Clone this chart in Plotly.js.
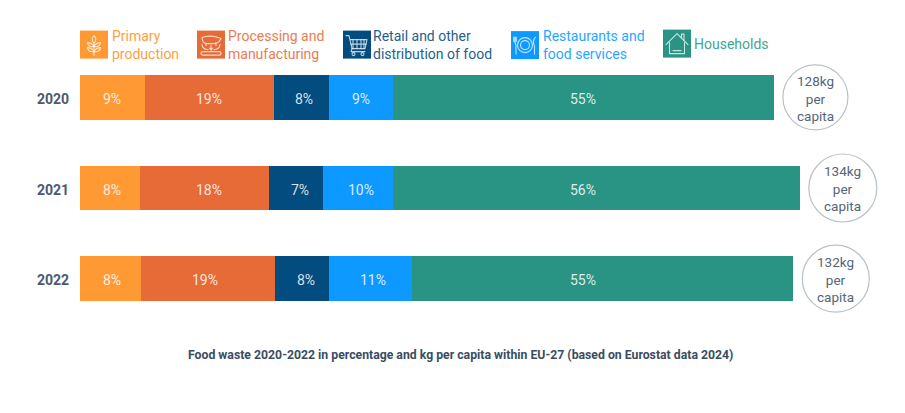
<!DOCTYPE html>
<html>
<head>
<meta charset="utf-8">
<script src="https://cdn.plot.ly/plotly-3.0.1.min.js"></script>
<style>html,body{margin:0;padding:0;background:#fff}#chart{width:905px;height:413px}</style>
</head>
<body>
<div id="chart"></div>
<script>
const years = ["2020", "2021", "2022"];
const seriesNames = ["Primary<br>production", "Processing and<br>manufacturing", "Retail and other<br>distribution of food", "Restaurants and<br>food services", "Households"];
const colors = ["#ff9933", "#e66b37", "#024c80", "#0d99ff", "#2a9484"];
const legendTextColors = ["#ffa040", "#e97d50", "#1f5f8f", "#2aa5ff", "#3fa595"];
const primaryKg = [12.0, 11.1, 11.3];
const processingKg = [24.0, 23.9, 24.9];
const retailKg = [10.1, 10.0, 9.9];
const restaurantsKg = [11.9, 13.0, 15.4];
const householdsKg = [70.5, 75.3, 70.5];
const primaryPct = ["9%", "8%", "8%"];
const processingPct = ["19%", "18%", "19%"];
const retailPct = ["8%", "7%", "8%"];
const restaurantsPct = ["9%", "10%", "11%"];
const householdsPct = ["55%", "56%", "55%"];
const primaryLabelX = [6.0, 6.0, 6.0];
const processingLabelX = [23.8, 23.8, 23.2];
const retailLabelX = [41.5, 40.7, 41.9];
const restaurantsLabelX = [52.0, 52.0, 54.3];
const householdsLabelX = [93.2, 93.2, 93.2];
const totalsKg = [128, 134, 132];
const chartTitle = "Food waste 2020-2022 in percentage and kg per capita within EU-27 (based on Eurostat data 2024)";

const W = 905, H = 413, L = 80, R = 15, T = 52.4, B = 88.6;
const pw = W - L - R, ph = H - T - B;
const px = v => (v - L) / pw;
const py = v => 1 - (v - T) / ph;
const font = "Roboto, sans-serif";

const kg = [primaryKg, processingKg, retailKg, restaurantsKg, householdsKg];
const pct = [primaryPct, processingPct, retailPct, restaurantsPct, householdsPct];
const labelX = [primaryLabelX, processingLabelX, retailLabelX, restaurantsLabelX, householdsLabelX];
const data = kg.map((vals, i) => ({
  type: "bar", orientation: "h", y: years, x: vals,
  marker: {color: colors[i], line: {width: 0}},
  name: seriesNames[i].replace("<br>", " "), hoverinfo: "skip", showlegend: false
}));

const sw = 'fill="none" stroke="#fff" stroke-opacity="0.75" stroke-width="1.1" stroke-linecap="round" stroke-linejoin="round"';
const svg = b => "data:image/svg+xml;utf8," + encodeURIComponent('<svg xmlns="http://www.w3.org/2000/svg" viewBox="0 0 28 28"><g ' + sw + '>' + b + '</g></svg>');
const icons = [
  svg('<path d="M14 5C11.5 7.5 11.5 10 14 12.5C16.5 10 16.5 7.5 14 5Z"/><path d="M14 12V25"/><path d="M14 16C12.5 13 10 12 7.5 12C8 15 10.5 16.5 14 16Z"/><path d="M14 16C15.5 13 18 12 20.5 12C20 15 17.5 16.5 14 16Z"/><path d="M14 21C12.5 18 10 17 7.5 17C8 20 10.5 21.5 14 21Z"/><path d="M14 21C15.5 18 18 17 20.5 17C20 20 17.5 21.5 14 21Z"/>'),
  svg('<path d="M5 7C9 5 17 5 21 7L24 8L22 11C20 13 18 13 17 13H10C7 13 5 11 5 7Z"/><path d="M9 13V15M19 12V15"/><path d="M5 14C5 17 8 19 11 19M23 14C23 17 20 19 17 19"/><path d="M14 15V19M12.5 17.5L14 19.5L15.5 17.5"/><rect x="4" y="21" width="20" height="3.5" rx="1.7"/>'),
  svg('<path d="M3 5H6L9 18H22L24 9H7"/><path d="M10 9V18M14 9V18M18 9V18M21 9V18M8 13.5H23"/><path d="M9 18L8 21H22"/><circle cx="10.5" cy="23.5" r="1.5"/><circle cx="19.5" cy="23.5" r="1.5"/>'),
  svg('<circle cx="14" cy="14" r="7.5"/><circle cx="14" cy="14" r="4.5"/><path d="M4 6V11C4 13 5 13.5 5 14V23M2.8 6V10.5M5.2 6V10.5"/><path d="M24.5 6C22 8 22 13 23.5 15V23"/>'),
  svg('<path d="M3 15L14 4L25 15"/><path d="M6.5 13V24H21.5V13"/><path d="M18.5 8V4.5H21V10.5"/><path d="M10 21H18"/>')
];
const iconBoxes = [[80, 31], [197, 31], [343, 31], [511, 31.5], [663, 30]];
const labelPos = [[109.5, 45], [225.5, 45], [370.5, 45], [540.5, 45], [691.5, 44]];
const BOX = 28;

const shapes = iconBoxes.map((b, i) => ({
  type: "rect", xref: "paper", yref: "paper", layer: "below",
  x0: px(b[0]), x1: px(b[0] + BOX), y0: py(b[1] + BOX), y1: py(b[1]),
  fillcolor: colors[i], line: {width: 0}
}));
const circleR = [32.5, 34, 33.5];
const circleShift = [41.5, 43, 43];
const circleTextYShift = [-1, 0, -1];
years.forEach((y, i) => {
  const r = circleR[i];
  shapes.push({
    type: "circle", xref: "x", yref: "y", xsizemode: "pixel", ysizemode: "pixel",
    xanchor: kg.reduce((s, a) => s + a[i], 0), yanchor: i,
    x0: circleShift[i] - r, x1: circleShift[i] + r, y0: -r, y1: r,
    fillcolor: "#fff", line: {color: "#b9c1ca", width: 1.2}
  });
});

const annotations = seriesNames.map((t, i) => ({
  xref: "paper", yref: "paper", x: px(labelPos[i][0]), y: py(labelPos[i][1]),
  xanchor: "left", yanchor: "middle", align: "left", showarrow: false, text: t,
  font: {family: font, size: 14, color: legendTextColors[i]}
}));
years.forEach((y, i) => {
  annotations.push({
    xref: "x", yref: "y", x: kg.reduce((s, a) => s + a[i], 0), y: i, xshift: circleShift[i], yshift: circleTextYShift[i],
    xanchor: "center", yanchor: "middle", align: "center", showarrow: false,
    text: totalsKg[i] + "kg<br>per<br>capita",
    font: {family: font, size: 13.5, color: "#55657a"}
  });
  annotations.push({
    xref: "paper", yref: "y", x: px(69.5), xshift: 1.5, y: i, yshift: -1.5,
    xanchor: "right", yanchor: "middle", showarrow: false, text: y,
    font: {family: font, size: 14, weight: "bold", color: "#4a5a70"}
  });
  pct.forEach((p, s) => {
    annotations.push({
      xref: "x", yref: "y", x: labelX[s][i], y: i, yshift: -1.5,
      xanchor: "center", yanchor: "middle", showarrow: false, text: p[i],
      font: {family: font, size: 14, color: "rgba(255,255,255,0.85)"}
    });
  });
});
annotations.push({
  xref: "paper", yref: "paper", x: px(460.5), y: py(355.5), xanchor: "center", yanchor: "middle",
  showarrow: false, text: chartTitle,
  font: {family: font, size: 12.25, weight: "bold", color: "#3a4d63"}
});

const images = iconBoxes.map((b, i) => ({
  source: icons[i], xref: "paper", yref: "paper", x: px(b[0]), y: py(b[1]),
  sizex: BOX / pw, sizey: BOX / ph, xanchor: "left", yanchor: "top", sizing: "stretch", layer: "above"
}));

const layout = {
  width: W, height: H, margin: {l: L, r: R, t: T, b: B, pad: 0},
  paper_bgcolor: "#fff", plot_bgcolor: "#fff",
  barmode: "stack", bargap: 0.507, showlegend: false,
  xaxis: {range: [0, pw / 5.4], visible: false, fixedrange: true},
  yaxis: {type: "category", categoryorder: "array", categoryarray: years, range: [2.5, -0.5],
    showgrid: false, zeroline: false, showline: false, ticks: "", showticklabels: false, fixedrange: true},
  shapes, annotations, images
};
Plotly.newPlot("chart", data, layout, {displayModeBar: false, staticPlot: true});
</script>
</body>
</html>
